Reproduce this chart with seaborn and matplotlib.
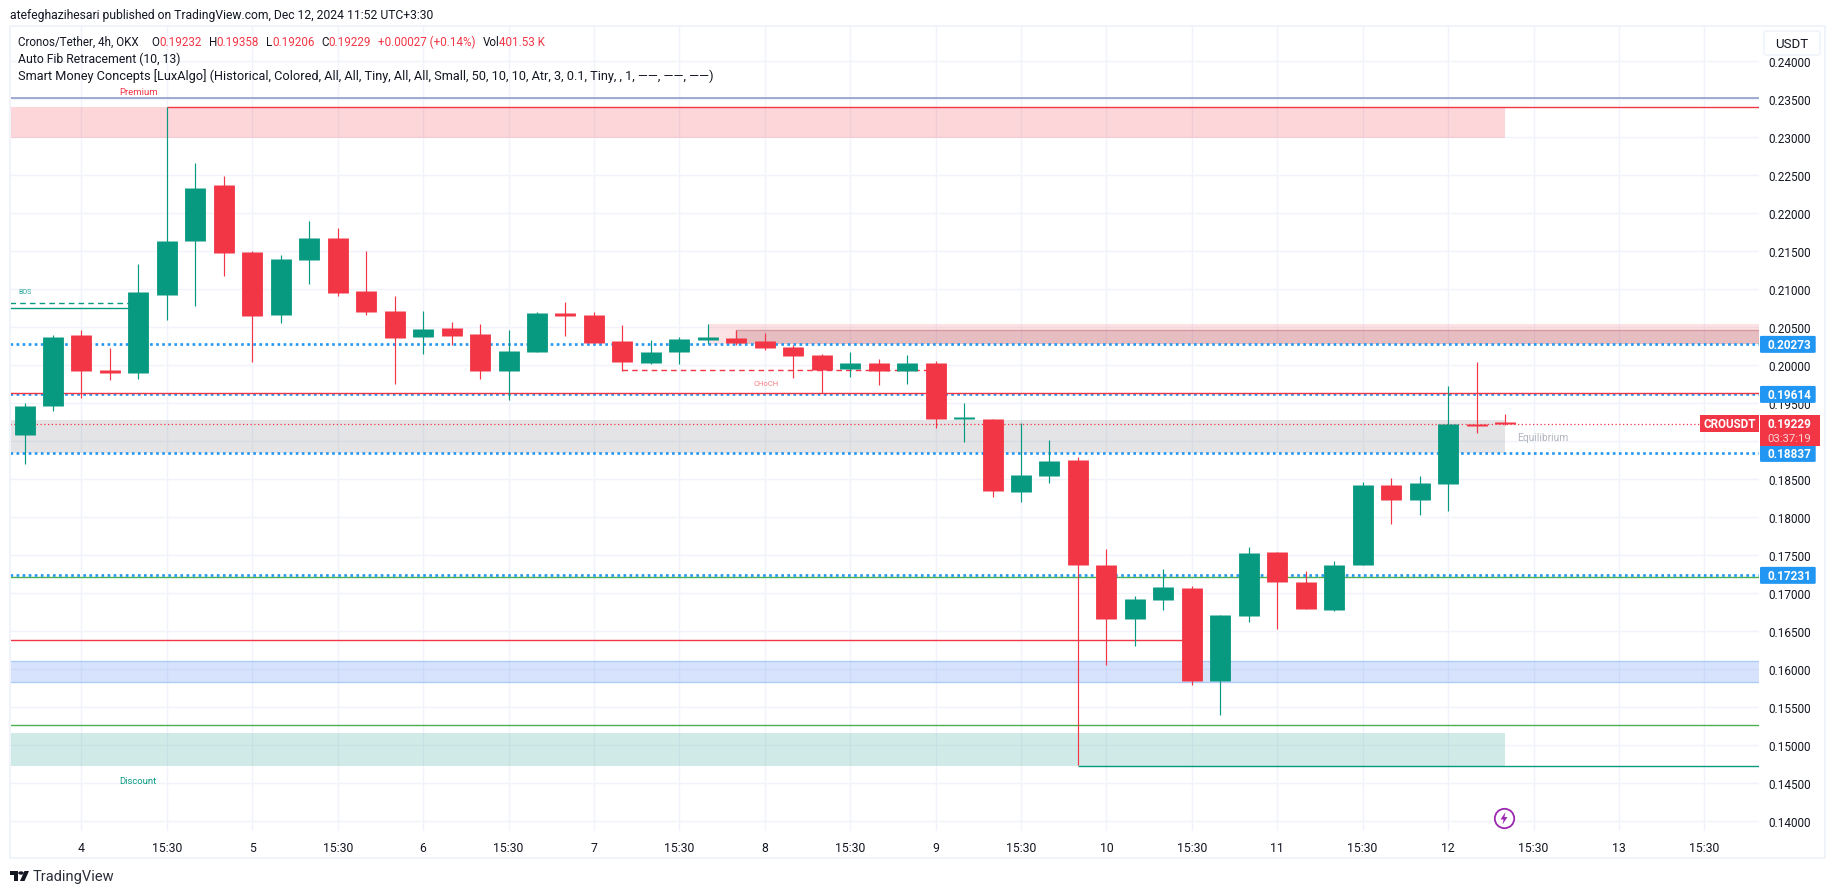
import numpy as np
import pandas as pd
import seaborn as sns
import matplotlib.pyplot as plt
from matplotlib.patches import Rectangle, FancyBboxPatch, Polygon, Circle

# 4h candles, Cronos/Tether
opens = [0.19075, 0.19465, 0.20399, 0.19939, 0.19899, 0.20925, 0.21636, 0.22373, 0.21491, 0.20662,
         0.21386, 0.21675, 0.20978, 0.20715, 0.20373, 0.20491, 0.20412, 0.19925, 0.20175, 0.20689,
         0.20662, 0.20320, 0.20031, 0.20175, 0.20333, 0.20360, 0.20320, 0.20241, 0.20136, 0.19952,
         0.20031, 0.19925, 0.20031, 0.19294, 0.19294, 0.18333, 0.18544, 0.18754, 0.17373, 0.16662,
         0.16912, 0.17070, 0.15846, 0.16702, 0.17544, 0.17149, 0.16781, 0.17373, 0.18425, 0.18228,
         0.18439, 0.19228, 0.19232]
highs = [0.19500, 0.20390, 0.20465, 0.20228, 0.21333, 0.23395, 0.22662, 0.22491, 0.21504, 0.21452,
         0.21899, 0.21807, 0.21504, 0.20912, 0.20715, 0.20570, 0.20544, 0.20465, 0.20702, 0.20833,
         0.20702, 0.20531, 0.20333, 0.20373, 0.20544, 0.20465, 0.20425, 0.20259, 0.20149, 0.20175,
         0.20083, 0.20136, 0.20057, 0.19504, 0.19294, 0.19241, 0.19018, 0.18794, 0.17583, 0.16965,
         0.17320, 0.17096, 0.16715, 0.17610, 0.17544, 0.17294, 0.17425, 0.18465, 0.18518, 0.18544,
         0.19728, 0.20044, 0.19358]
lows = [0.18693, 0.19399, 0.19570, 0.19807, 0.19820, 0.20596, 0.20781, 0.21175, 0.20044, 0.20557,
        0.21070, 0.20912, 0.20662, 0.19754, 0.20149, 0.20268, 0.19820, 0.19544, 0.20175, 0.20386,
        0.20294, 0.19925, 0.20018, 0.20018, 0.20281, 0.20259, 0.20202, 0.19833, 0.19627, 0.19846,
        0.19741, 0.19754, 0.19175, 0.18991, 0.18268, 0.18202, 0.18452, 0.14737, 0.16044, 0.16307,
        0.16781, 0.15781, 0.15386, 0.16623, 0.16518, 0.16794, 0.16768, 0.17373, 0.17912, 0.18031,
        0.18083, 0.19110, 0.19206]
closes = [0.19465, 0.20373, 0.19925, 0.19899, 0.20965, 0.21636, 0.22333, 0.21478, 0.20649, 0.21399,
          0.21675, 0.20952, 0.20702, 0.20360, 0.20478, 0.20386, 0.19925, 0.20189, 0.20689, 0.20649,
          0.20294, 0.20044, 0.20175, 0.20346, 0.20373, 0.20294, 0.20228, 0.20123, 0.19939, 0.20031,
          0.19925, 0.20031, 0.19294, 0.19307, 0.18346, 0.18557, 0.18741, 0.17373, 0.16662, 0.16925,
          0.17083, 0.15846, 0.16715, 0.17531, 0.17149, 0.16794, 0.17373, 0.18425, 0.18228, 0.18452,
          0.19228, 0.19202, 0.19229]

price_ticks = [0.14, 0.145, 0.15, 0.155, 0.16, 0.165, 0.17, 0.175, 0.18, 0.185, 0.19, 0.195,
               0.20, 0.205, 0.21, 0.215, 0.22, 0.225, 0.23, 0.235, 0.24]
# 0.19 sits fully behind the last price tag, only its grid line shows
price_tick_labels = ['0.14000', '0.14500', '0.15000', '0.15500', '0.16000', '0.16500', '0.17000',
                     '0.17500', '0.18000', '0.18500', '', '0.19500', '0.20000', '0.20500', '0.21000',
                     '0.21500', '0.22000', '0.22500', '0.23000', '0.23500', '0.24000']
time_tick_pos = [2, 5, 8, 11, 14, 17, 20, 23, 26, 29, 32, 35, 38, 41, 44, 47, 50, 53, 56, 59]
time_tick_labels = ['4', '15:30', '5', '15:30', '6', '15:30', '7', '15:30', '8', '15:30',
                    '9', '15:30', '10', '15:30', '11', '15:30', '12', '15:30', '13', '15:30']

fib_levels = [0.20273, 0.19614, 0.18837, 0.17231]
last_price = 0.19229

GREEN = '#089981'
RED = '#f23645'
BLUE = '#2196f3'
TEXT = '#131722'
GRID = '#f0f3fa'
W, H = 1835, 895

sns.set_theme(style='whitegrid', rc={'grid.color': GRID, 'grid.linewidth': 1.0,
                                     'axes.edgecolor': 'white', 'figure.facecolor': 'white'})
plt.rcParams['font.family'] = ['Roboto', 'DejaVu Sans']

fig = plt.figure(figsize=(W / 100, H / 100), dpi=100)
ax = fig.add_axes([10 / W, 1 - 832 / H, (1759 - 10) / W, (832 - 27) / H])
left, right = -0.51, 60.92
ax.set_facecolor('white')

# zones
ax.fill_between([left, 52], 0.22987, 0.23395, color=RED, alpha=0.2, lw=0, zorder=1)
ax.fill_between([left, 52], 0.18846, 0.19280, color='#787b86', alpha=0.2, lw=0, zorder=1)
ax.fill_between([left, 52], 0.14724, 0.15155, color=GREEN, alpha=0.19, lw=0, zorder=1)
ax.fill_between([left, right], 0.15825, 0.16105, color='#3a76f0', alpha=0.2, lw=0, zorder=1)
ax.hlines([0.15825, 0.16105], left, right, color='#aecbf8', lw=1.0, zorder=1.1)
ax.fill_between([24, right], 0.20273, 0.20544, color=RED, alpha=0.14, lw=0, zorder=1)
ax.fill_between([25, right], 0.20273, 0.20465, color='#8a2a35', alpha=0.2, lw=0, zorder=1.1)
ax.hlines(0.20465, 25, right, color='#d49aa0', lw=1.0, zorder=1.2)
ax.vlines(25, 0.20273, 0.20465, color='#d49aa0', lw=1.0, zorder=1.2)

# structure lines
ax.hlines(0.23522, left, right, color='#8494c4', lw=1.1, zorder=1.5)
ax.hlines(0.23395, 5, right, color=RED, lw=1.0, zorder=1.5)
ax.hlines(0.20750, left, 4, color=GREEN, lw=1.0, zorder=1.5)
ax.hlines(0.20820, left, 4, color=GREEN, lw=1.0, linestyles=(0, (4, 3)), zorder=1.5)
ax.hlines(0.19934, 21, 32, color=RED, lw=1.0, linestyles=(0, (4, 3)), zorder=1.5)
ax.hlines(0.17215, left, right, color='#4caf50', lw=1.0, zorder=1.5)
ax.hlines(0.16382, left, 41, color=RED, lw=1.0, zorder=1.5)
ax.hlines(0.15256, left, right, color='#4caf50', lw=1.0, zorder=1.5)
ax.hlines(0.14716, 37, right, color=GREEN, lw=1.0, zorder=1.5)
ax.hlines(fib_levels, left, right, color=BLUE, lw=1.9, linestyles=(0, (1, 1.3)), zorder=1.6)
ax.hlines(0.19632, left, right, color=RED, lw=1.0, zorder=1.7)
ax.hlines(last_price, left, right, color=RED, lw=0.9, linestyles=(0, (1, 2)), zorder=1.7)

# candles
candles = pd.DataFrame({'candle': np.arange(len(opens)), 'open': opens, 'high': highs,
                        'low': lows, 'close': closes})
candles['side'] = np.where(candles['close'] >= candles['open'], 'up', 'down')
candles['top'] = candles[['open', 'close']].max(axis=1)
candles['bottom'] = candles[['open', 'close']].min(axis=1)
# smallest body still has to show as about 1px
candles['top'] = np.maximum(candles['top'], candles['bottom'] + 0.00018)
palette = {'up': GREEN, 'down': RED}

wicks = candles.melt(id_vars=['candle', 'side'], value_vars=['low', 'high'], value_name='price')
bodies = candles.melt(id_vars=['candle', 'side'], value_vars=['bottom', 'top'], value_name='price')
sns.lineplot(data=wicks, x='candle', y='price', hue='side', units='candle', estimator=None,
             palette=palette, legend=False, sort=False, lw=0.85, solid_capstyle='butt', zorder=3, ax=ax)
sns.lineplot(data=bodies, x='candle', y='price', hue='side', units='candle', estimator=None,
             palette=palette, legend=False, sort=False, lw=15.0, solid_capstyle='butt', zorder=3.1, ax=ax)

ax.set_xlim(left, right)
ax.set_ylim(0.13864, 0.24466)
ax.set_xlabel('')
ax.set_ylabel('')
ax.set_xticks(time_tick_pos)
ax.set_xticklabels(time_tick_labels)
ax.set_yticks(price_ticks)
ax.set_yticklabels(price_tick_labels)
ax.yaxis.tick_right()
ax.tick_params(axis='y', length=0, pad=6.5, labelsize=8.5, labelcolor=TEXT)
ax.tick_params(axis='x', length=0, pad=7, labelsize=8.8, labelcolor=TEXT)
ax.set_axisbelow(True)
sns.despine(ax=ax, left=True, right=True, top=True, bottom=True)


def put(x, y, s, color=TEXT, size=9, **kw):
    kw.setdefault('va', 'center')
    fig.text(x / W, 1 - y / H, s, color=color, fontsize=size, **kw)


def box(x0, y0, x1, y1, color, **kw):
    fig.add_artist(Rectangle((x0 / W, 1 - y1 / H), (x1 - x0) / W, (y1 - y0) / H, color=color,
                             lw=0, transform=fig.transFigure, **kw))


def price_y(price):
    return H - ax.transData.transform((0, price))[1]


# outer frame
box(9, 26, 1826, 28, GRID)
box(9, 858, 1826, 860, GRID)
box(9, 26, 11, 860, GRID)
box(1824, 26, 1826, 860, GRID)

# header and legend
put(10, 15, 'atefeghazihesari published on TradingView.com, Dec 12, 2024 11:52 UTC+3:30', size=8.7)
put(18, 42, 'Cronos/Tether, 4h, OKX', size=8.4)
legend_row = [(151.5, 'O', TEXT), (159, '0.19232', RED), (208.7, 'H', TEXT), (216, '0.19358', RED),
              (266, 'L', TEXT), (272, '0.19206', RED), (321, 'C', TEXT), (328.6, '0.19229', RED),
              (378, '+0.00027 (+0.14%)', RED), (483, 'Vol', TEXT), (499, '401.53 K', RED)]
for x, s, c in legend_row:
    put(x, 42, s, color=c, size=8.4)
put(18, 59, 'Auto Fib Retracement (10, 13)', size=8.8)
put(18, 76, 'Smart Money Concepts [LuxAlgo] (Historical, Colored, All, All, Tiny, All, All, Small, '
            '50, 10, 10, Atr, 3, 0.1, Tiny, , 1, ——, ——, ——)', size=9.2)

# labels on the chart
put(119, 92.7, 'Premium', color=RED, size=6.8)
put(119, 781.7, 'Discount', color=GREEN, size=6.8)
put(18, 293, 'BOS', color='#26a69a', size=5)
put(753, 383.7, 'CHoCH', color='#f77c80', size=5.5)
put(1517, 438, 'Equilibrium', color='#b2b5be', size=7.4)

# USDT button, white behind it hides the top of the 0.24000 label
box(1762, 28, 1824, 59, 'white')
fig.add_artist(FancyBboxPatch((1764 / W, 1 - 56 / H), 56 / W, 24 / H, boxstyle='round,pad=0,rounding_size=0.002',
                              fc='white', ec=GRID, lw=1.2, transform=fig.transFigure))
put(1791.5, 44, 'USDT', size=9.5, ha='center')

# price tags
for level in fib_levels:
    y = price_y(level)
    fig.add_artist(FancyBboxPatch((1760 / W, 1 - (y + 8.5) / H), 55.7 / W, 17 / H,
                                  boxstyle='round,pad=0,rounding_size=0.001', fc=BLUE, lw=0,
                                  transform=fig.transFigure))
    put(1767.7, y, f'{level:.5f}', color='white', size=8.5, fontweight='bold')
y = price_y(last_price)
box(1700, y - 8.5, 1759, y + 8.5, RED)
put(1729.5, y, 'CROUSDT', color='white', size=8.4, ha='center', fontweight='bold')
box(1760, y - 8.5, 1820, y + 22.5, RED)
put(1767.7, y - 0.5, f'{last_price:.5f}', color='white', size=8.5, fontweight='bold')
put(1767.7, y + 14.2, '03:37:19', color='#fbd2d6', size=8.2)

# purple icon
fig.add_artist(plt.Line2D([1504 / W], [1 - 819.3 / H], marker='o', ms=14, mfc='white', mec='#9c27b0', mew=1.3,
                          transform=fig.transFigure, zorder=2))
bolt = [(1505.5, 813), (1500.5, 820.5), (1503.6, 820.5), (1502.5, 825.5), (1507.5, 818), (1504.4, 818)]
fig.add_artist(Polygon([(x / W, 1 - yy / H) for x, yy in bolt], closed=True, color='#9c27b0', lw=0,
                       transform=fig.transFigure, zorder=3))

# TradingView logo
box(10, 872, 18, 875.5, '#131722')
box(13.5, 875.5, 18, 882, '#131722')
fig.add_artist(Circle((21 / W, 1 - 874 / H), 0.0011, color='#131722', transform=fig.transFigure))
slant = [(24.5, 872), (29, 872), (24.5, 882), (20, 882)]
fig.add_artist(Polygon([(x / W, 1 - yy / H) for x, yy in slant], closed=True, color='#131722', lw=0,
                       transform=fig.transFigure))
put(33, 877, 'TradingView', size=10.5, color='#2a2e39')

fig.savefig('out.png', dpi=100)
